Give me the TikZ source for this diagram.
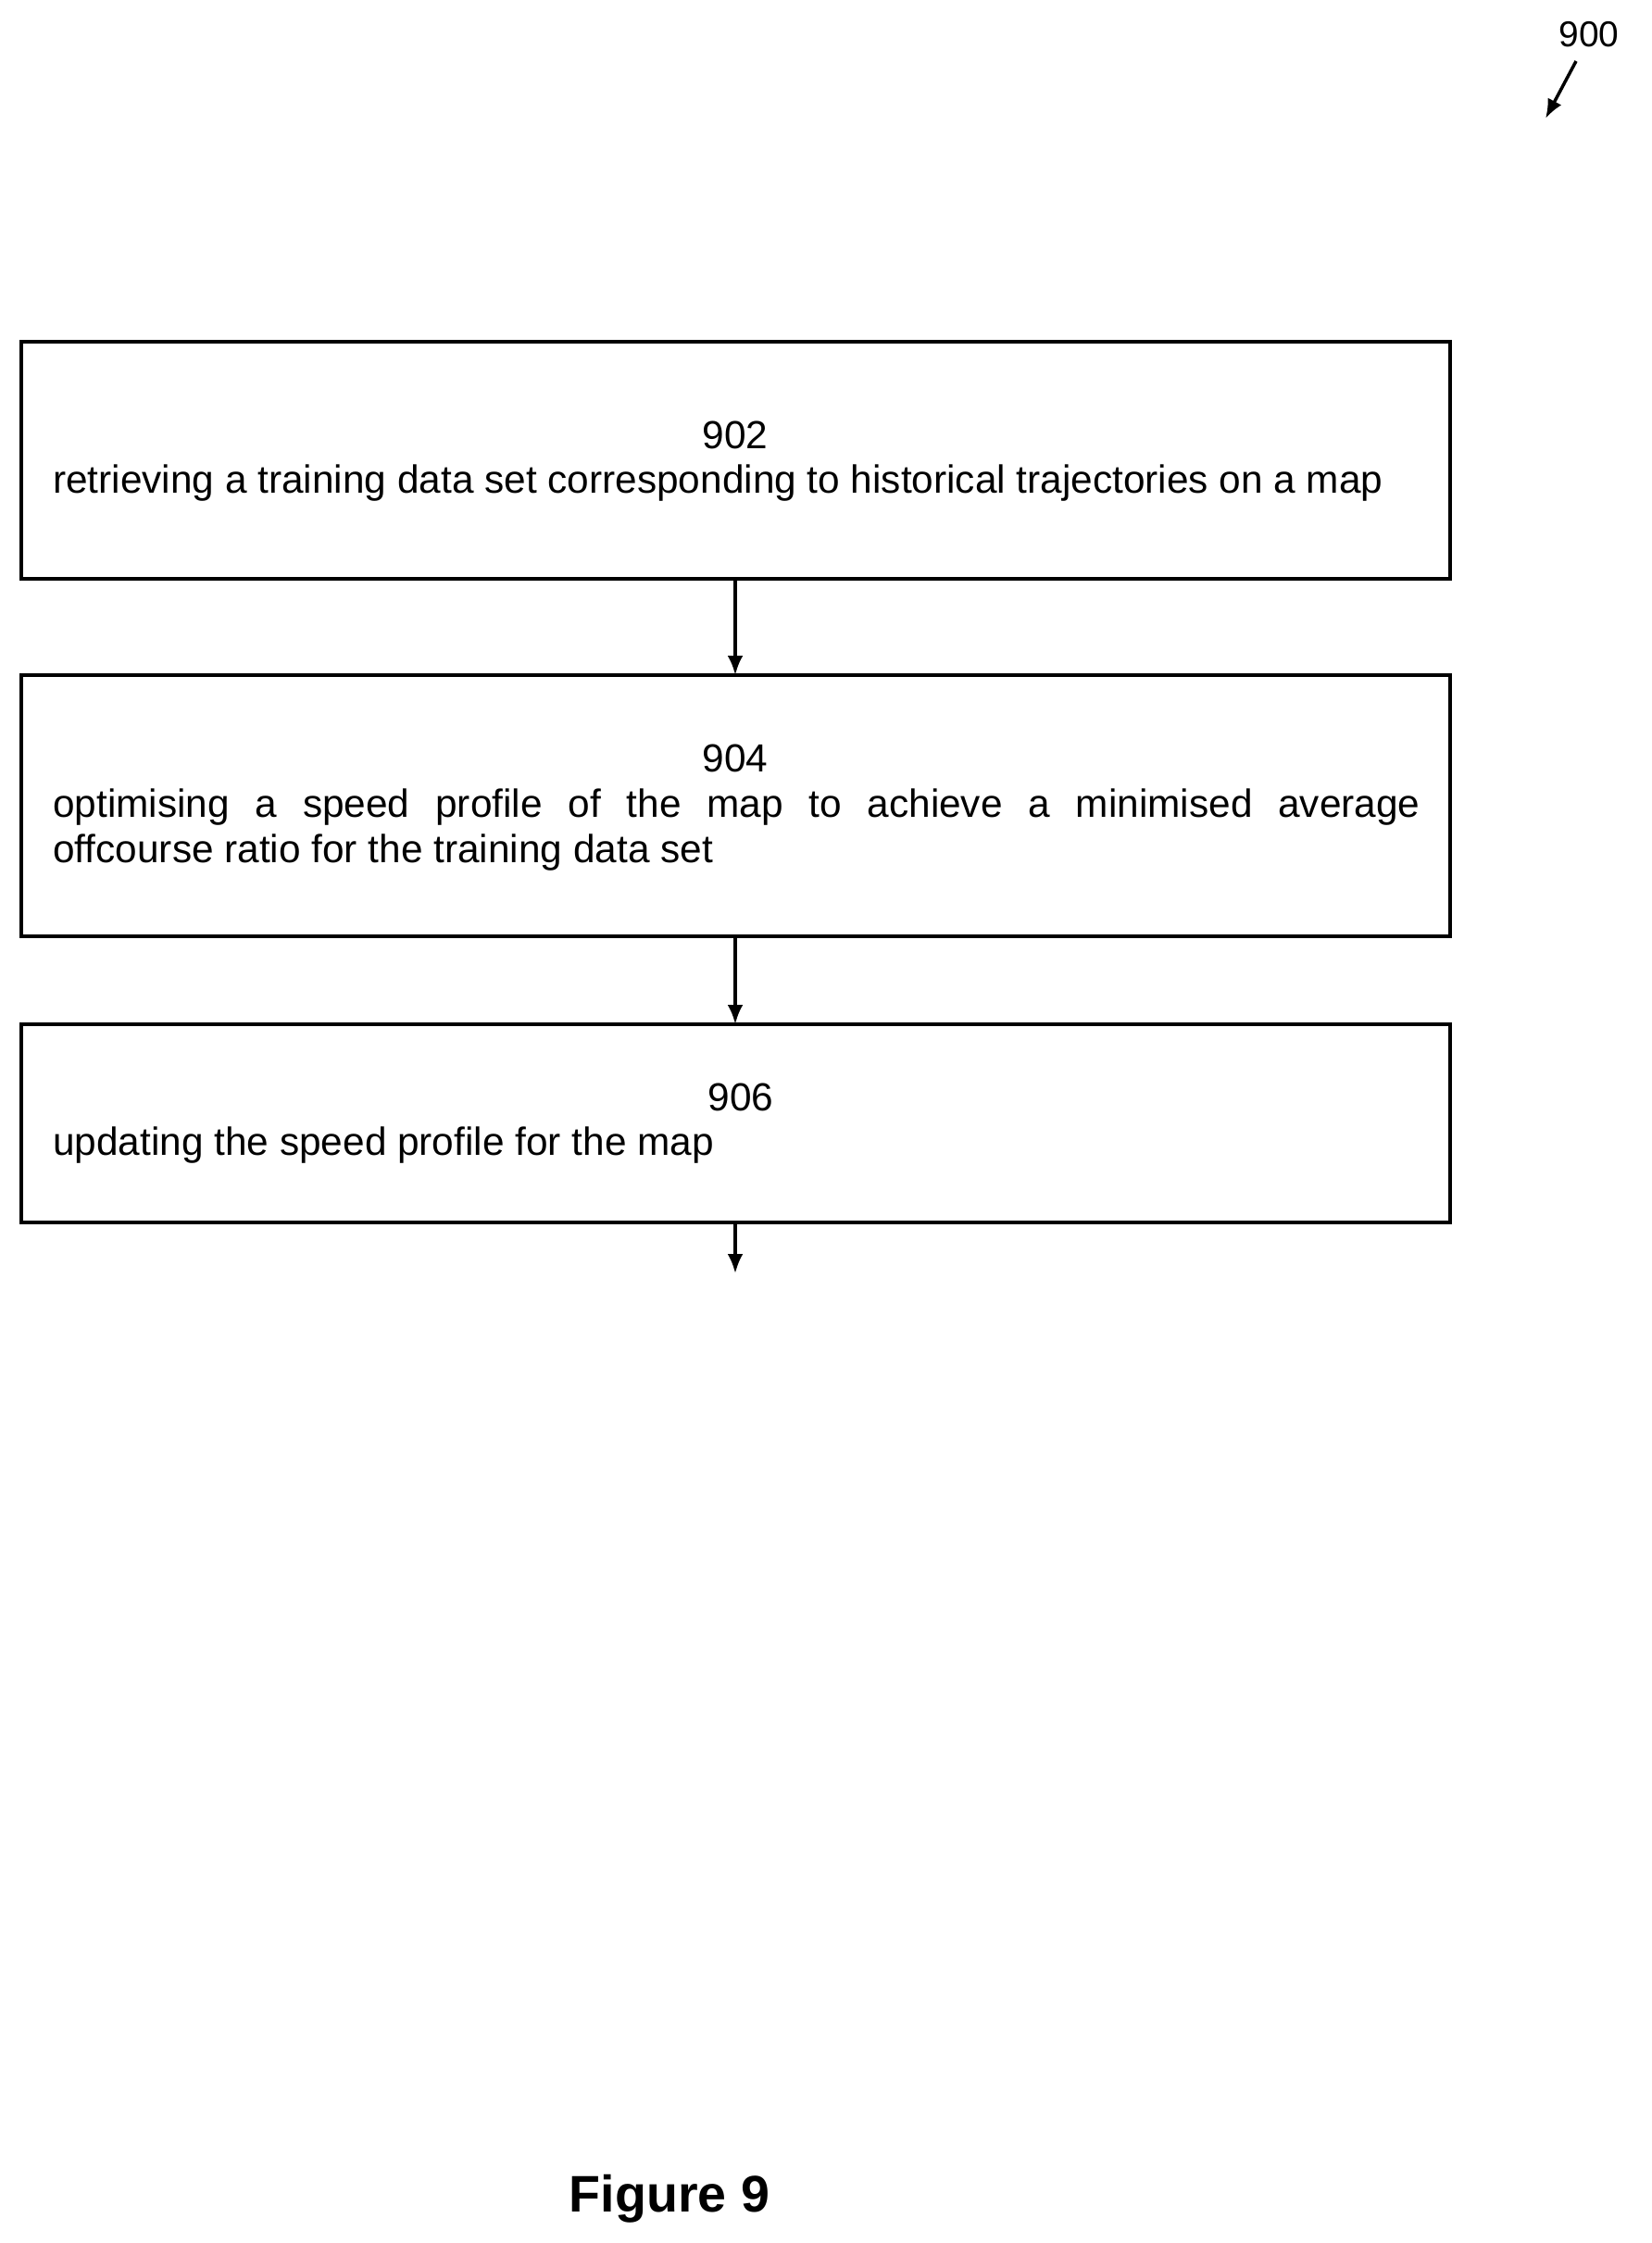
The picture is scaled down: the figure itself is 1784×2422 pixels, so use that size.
\documentclass[tikz,border=0pt]{standalone}
\usepackage{fontspec}
\setmainfont{Liberation Sans}
\usetikzlibrary{arrows.meta}
\begin{document}
\begin{tikzpicture}[x=0.72pt,y=-0.72pt,
  stepbox/.style={draw,line width=3.3pt},
  txt/.style={font=\fontsize{30.5}{34.6}\selectfont,inner sep=0pt},
  arr/.style={-{Latex[length=15pt,width=12pt]},line width=2.5pt}]
\useasboundingbox (0,0) rectangle (1784,2422);
\draw[stepbox] (23,369) rectangle (1566,625);
\draw[stepbox] (23,729) rectangle (1566,1011);
\draw[stepbox] (23,1106) rectangle (1566,1320);
\node[txt,anchor=base] (n902) at (794,484) {902};
\node[txt,anchor=base west] (t902) at (57,532) {retrieving a training data set corresponding to historical trajectories on a map};
\node[txt,anchor=base] (n904) at (794,833) {904};
\node[txt,anchor=north west,text width=1063pt,align=justify] (t904) at (57,852) {optimising a speed profile of the map to achieve a minimised average\linebreak offcourse ratio for the training data set};
\node[txt,anchor=base] (n906) at (800,1199) {906};
\node[txt,anchor=base west] (t906) at (57,1247) {updating the speed profile for the map};
\coordinate (b1) at (794,625); \coordinate (b2t) at (794,729);
\coordinate (b2) at (794,1011); \coordinate (b3t) at (794,1106);
\coordinate (b3) at (794,1320); \coordinate (e) at (794,1375);
\draw[arr] (b1) -- (b2t);
\draw[arr] (b2) -- (b3t);
\draw[arr] (b3) -- (e);
\node[font=\fontsize{28}{30}\selectfont] (n900) at (1716,37) {900};
\coordinate (a1) at (1702,66); \coordinate (a2) at (1669,128);
\draw[arr] (a1) -- (a2);
\node[font=\bfseries\fontsize{40}{44}\selectfont] (fig) at (723,2374) {Figure 9};
\end{tikzpicture}
\end{document}
